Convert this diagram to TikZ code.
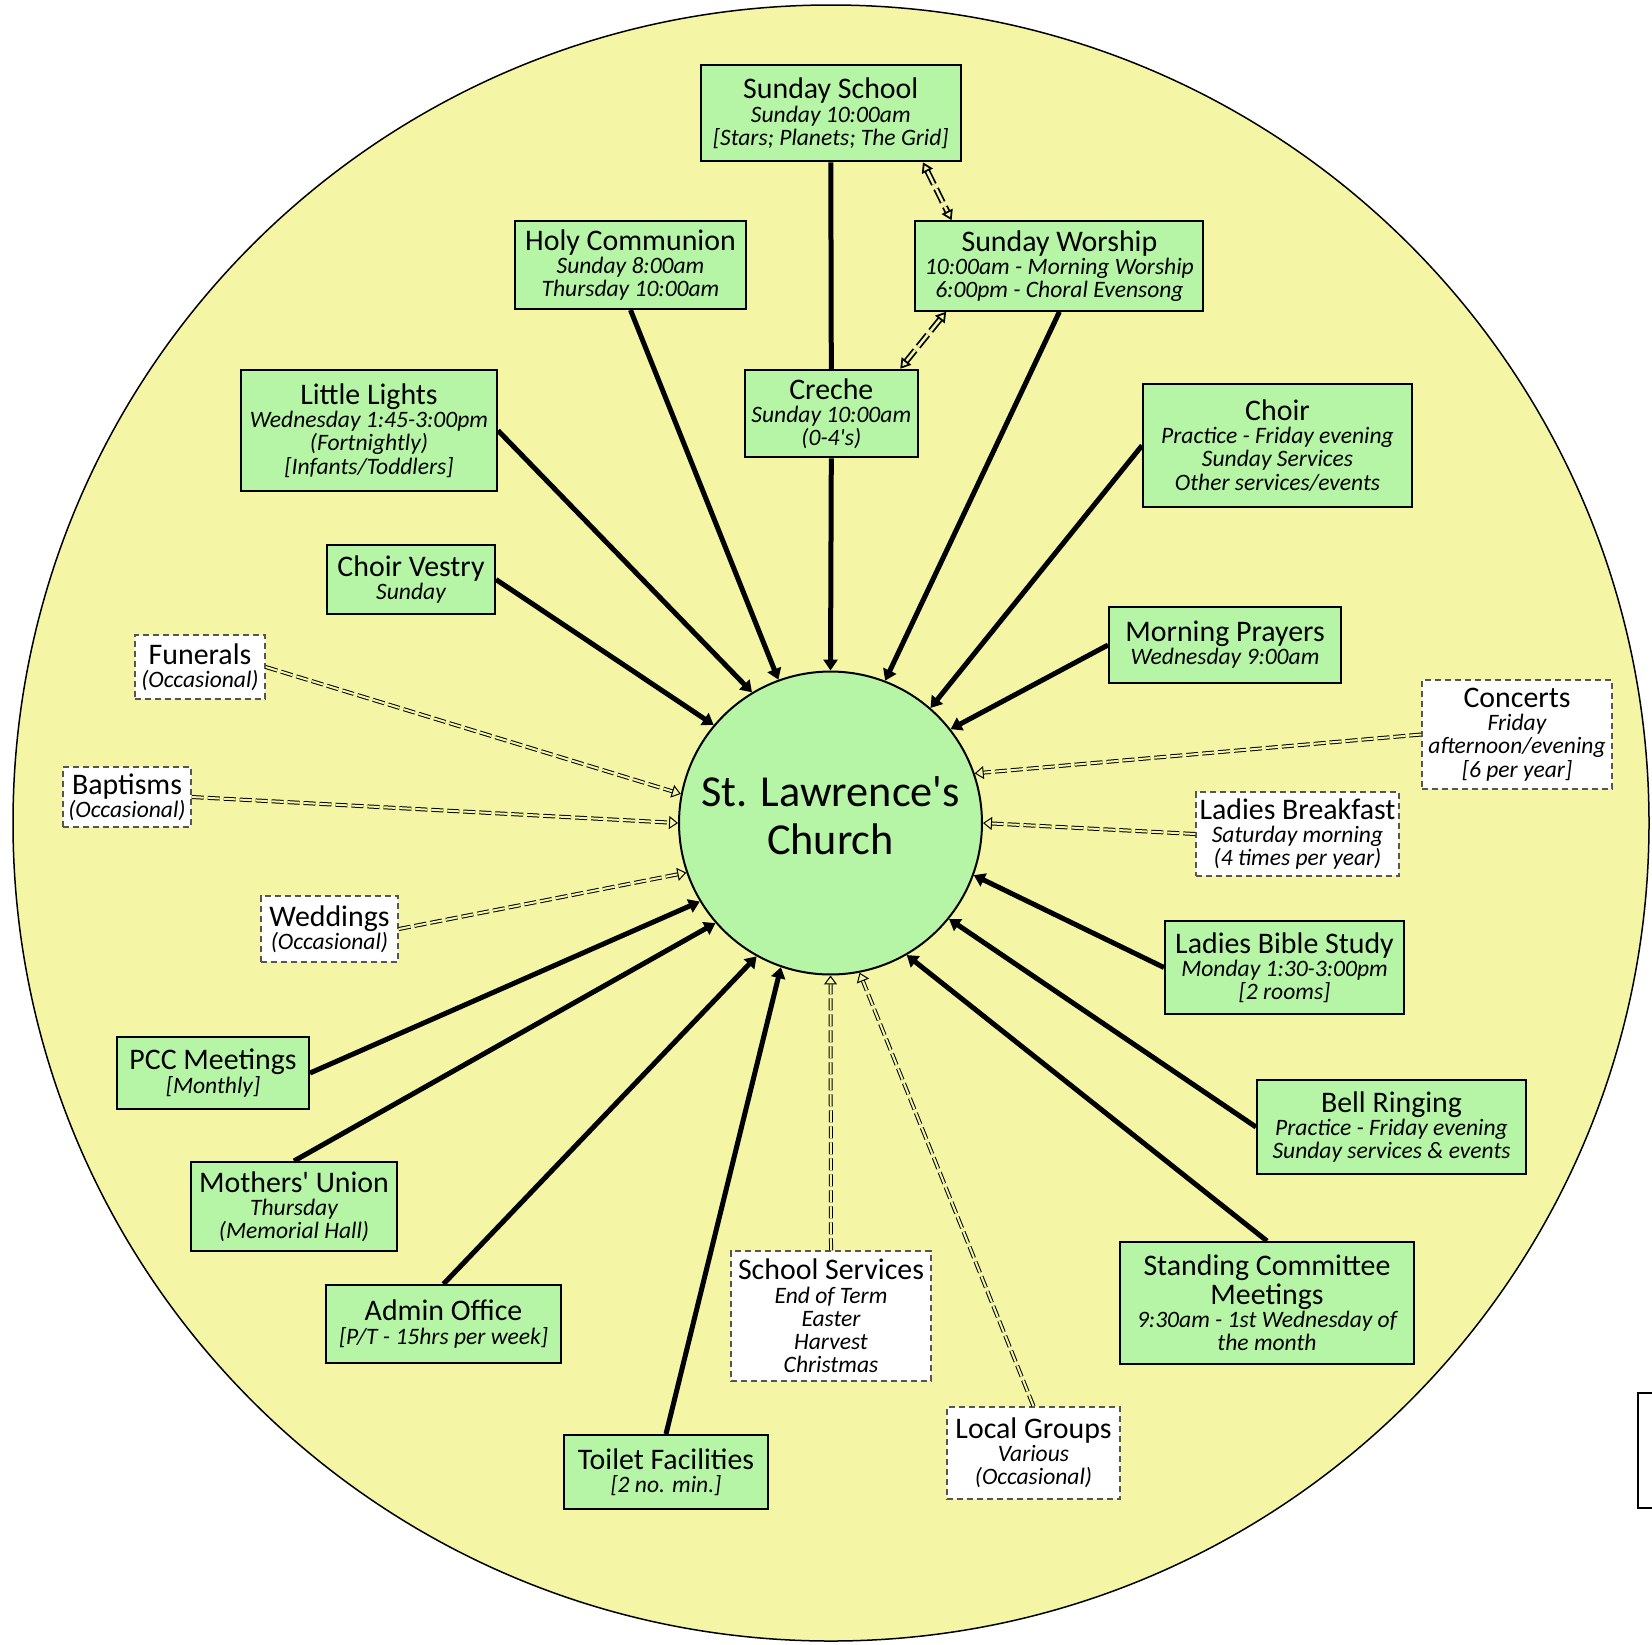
\documentclass[tikz,border=0pt]{standalone}
\usepackage{fontspec}
\setmainfont{Carlito}[Ligatures=TeXOff]
\usepackage{xcolor}
\usetikzlibrary{arrows.meta}

\definecolor{paleyellow}{RGB}{244,246,166}
\definecolor{palegreen}{RGB}{182,245,166}
\definecolor{dashgrey}{RGB}{85,85,85}

\newcommand{\subfont}{\fontsize{13.4}{13.2}\selectfont\lineskip=0pt\itshape}
\newcommand{\ttl}{\fontsize{17}{17}\selectfont\upshape}

\tikzset{
 act/.style={draw=black, line width=0.04cm, fill=palegreen, align=center, inner sep=0pt, font=\subfont},
 occ/.style={draw=dashgrey, line width=0.03cm, dash pattern=on 0.12cm off 0.08cm, fill=white, align=center, inner sep=0pt, font=\subfont},
 wh/.style 2 args={minimum width=#1*0.02cm, minimum height=#2*0.02cm},
 feed/.style={line width=0.1cm, -{Triangle[length=0.22cm,width=0.28cm]}},
 optfeed/.style={double=paleyellow, double distance=0.04cm, line width=0.02cm, dash pattern=on 0.24cm off 0.08cm, -{Triangle[open,length=0.18cm,width=0.26cm]}},
 link/.style={double=paleyellow, double distance=0.05cm, line width=0.035cm, dash pattern=on 0.3cm off 0.1cm, {Triangle[open,length=0.2cm,width=0.24cm]}-{Triangle[open,length=0.2cm,width=0.24cm]}}
}

\begin{document}
\begin{tikzpicture}[x=0.02cm, y=-0.02cm]
 \clip (0,0) rectangle (1652,1644);

 \fill[paleyellow] (831,823) circle (818);
 \draw[line width=0.03cm] (831,823) circle (818);

 \draw[line width=0.04cm, fill=white] (1638,1393) rectangle (1700,1508);

 \node [circle, draw=black, line width=0.04cm, fill=palegreen, minimum size=6.06cm, align=center, text depth=8.5pt, font=\fontsize{25.2}{27.2}\selectfont] (church) at (830.5,823) {St. Lawrence's\\Church};

 \node [act, wh={260}{96}] (ss) at (830.8,113.3) {{\ttl Sunday School}\\Sunday 10:00am\\{}[Stars; Planets; The Grid]};
 \node [act, wh={288}{89.5}] (worship) at (1059.4,266) {{\ttl Sunday Worship}\\10:00am - Morning Worship\\6:00pm - Choral Evensong};
 \node [act, wh={173}{87.5}] (creche) at (831.3,413.5) {{\ttl Creche}\\Sunday 10:00am\\(0-4's)};
 \node [act, wh={231}{88}] (holy) at (630.5,265) {{\ttl Holy Communion}\\Sunday 8:00am\\Thursday 10:00am};
 \node [act, wh={256}{121}] (lights) at (369,430.5) {{\ttl Little Lights}\\Wednesday 1:45-3:00pm\\(Fortnightly)\\{}[Infants/Toddlers]};
 \node [act, wh={168}{69}] (vestry) at (411,579.5) {{\ttl Choir Vestry}\\Sunday};
 \node [act, wh={269}{123}] (choir) at (1277.5,445.5) {{\ttl Choir}\\Practice - Friday evening\\Sunday Services\\Other services/events};
 \node [act, wh={232}{76}] (morning) at (1225,645) {{\ttl Morning Prayers}\\Wednesday 9:00am};
 \node [act, wh={239}{93}] (bible) at (1284.5,967.5) {{\ttl Ladies Bible Study}\\Monday 1:30-3:00pm\\{}[2 rooms]};
 \node [act, wh={269}{94}] (bells) at (1391.5,1127) {{\ttl Bell Ringing}\\Practice - Friday evening\\Sunday services \& events};
 \node [act, wh={294}{122}] (standing) at (1267,1303) {{\ttl Standing Committee}\\[1.5pt]{\ttl Meetings}\\9:30am - 1st Wednesday of\\the month};
 \node [act, wh={204}{74}] (toilet) at (666,1472) {{\ttl Toilet Facilities}\\{}[2 no. min.]};
 \node [act, wh={235}{78}] (admin) at (443.5,1324) {{\ttl Admin Office}\\{}[P/T - 15hrs per week]};
 \node [act, wh={206}{89}] (mothers) at (294,1206.5) {{\ttl Mothers' Union}\\Thursday\\(Memorial Hall)};
 \node [act, wh={192}{72}] (pcc) at (213,1073) {{\ttl PCC Meetings}\\{}[Monthly]};

 \node [occ, wh={190}{109}] (concerts) at (1517,734.5) {{\ttl Concerts}\\Friday\\afternoon/evening\\{}[6 per year]};
 \node [occ, wh={203}{84}] (breakfast) at (1297.5,834) {{\ttl Ladies Breakfast}\\Saturday morning\\(4 times per year)};
 \node [occ, wh={173}{92}] (local) at (1033.5,1453) {{\ttl Local Groups}\\Various\\(Occasional)};
 \node [occ, wh={200}{130}] (school) at (831,1316) {{\ttl School Services}\\End of Term\\Easter\\Harvest\\Christmas};
 \node [occ, wh={137}{66}] (weddings) at (329.5,929) {{\ttl Weddings}\\(Occasional)};
 \node [occ, wh={128}{60}] (baptisms) at (127,797) {{\ttl Baptisms}\\(Occasional)};
 \node [occ, wh={130}{64}] (funerals) at (200,667) {{\ttl Funerals}\\(Occasional)};

 \draw[line width=0.1cm] (ss.south) -- (creche.north);
 \draw[feed] (creche.south) -- (church.90);
 \draw[feed] (holy.south) -- (church.110.3);
 \draw[feed] (lights.east) -- (church.121.3);
 \draw[feed] (vestry.east) -- (church.140.6);
 \draw[feed] (worship.south) -- (church.69.5);
 \draw[feed] (choir.west) -- (church.49.9);
 \draw[feed] (morning.west) -- (church.38.9);
 \draw[feed] (bible.west) -- (church.-20.1);
 \draw[feed] (bells.west) -- (church.-39.9);
 \draw[feed] (standing.north) -- (church.-60);
 \draw[feed] (toilet.north) -- (church.-109.8);
 \draw[feed] (admin.north) -- (church.-119.8);
 \draw[feed] (mothers.north) -- (church.-139.7);
 \draw[feed] (pcc.east) -- (church.-149.7);

 \draw[optfeed] (concerts.west) -- (church.19);
 \draw[optfeed] (breakfast.west) -- (church.-0.5);
 \draw[optfeed] (local.north) -- (church.-79.6);
 \draw[optfeed] (school.north) -- (church.-90);
 \draw[optfeed] (weddings.east) -- (church.199.4);
 \draw[optfeed] (baptisms.east) -- (church.180.4);
 \draw[optfeed] (funerals.east) -- (church.169.7);

 \draw[link] (ss.-28.6) -- (worship.157.1);
 \draw[link] (worship.202.9) -- (creche.33.8);

\end{tikzpicture}
\end{document}
